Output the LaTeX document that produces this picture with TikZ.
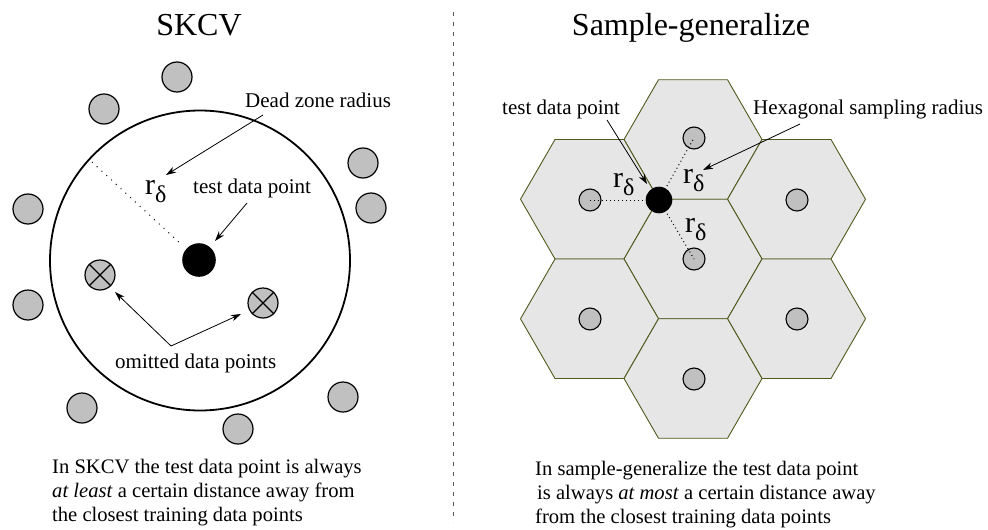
\documentclass[tikz,border=0pt]{standalone}
\usepackage{fontspec}
\setmainfont{Liberation Serif}
\usetikzlibrary{arrows.meta}
\definecolor{hexline}{RGB}{80,90,30}
\definecolor{hexfill}{RGB}{230,230,230}
\definecolor{ptfill}{RGB}{192,192,192}
\definecolor{sepline}{RGB}{90,90,90}
\newcommand\rdel{{\fontsize{30}{30}\selectfont r\raisebox{-8pt}{\fontsize{24}{24}\selectfont δ}}}
\newcommand\hexcell[2]{\draw[hexst,shift={(#1,#2)}] (69,0) -- (34.5,59.76) -- (-34.5,59.76) -- (-69,0) -- (-34.5,-59.76) -- (34.5,-59.76) -- cycle;}
\begin{document}
\begin{tikzpicture}[x=1pt,y=-1pt,
  lbl/.style={font=\fontsize{21}{24}\selectfont, inner sep=0pt, anchor=base west},
  ttl/.style={font=\fontsize{32}{36}\selectfont, inner sep=0pt, anchor=base},
  capl/.style={font=\fontsize{20.6}{24}\selectfont, inner sep=0pt, anchor=base west},
  rlbl/.style={inner sep=0pt, anchor=base west},
  ptl/.style={circle, draw=black, line width=1.2pt, fill=ptfill, minimum size=30pt, inner sep=0pt},
  pts/.style={circle, draw=black, line width=1.1pt, fill=ptfill, minimum size=22pt, inner sep=0pt},
  blk/.style={circle, fill=black, inner sep=0pt},
  hexst/.style={draw=hexline, fill=hexfill, line width=0.9pt, line join=miter},
  arr/.style={-{Stealth[length=10pt,width=6.5pt,inset=3pt]}, line width=0.8pt},
  dotl/.style={line width=1pt, dash pattern=on 1pt off 5.5pt},
  dotr/.style={line width=1pt, dash pattern=on 1pt off 3pt},
  sep/.style={draw=sepline, line width=0.8pt, dash pattern=on 4pt off 6pt}
]
\useasboundingbox (0,0) rectangle (988,530);

% ---------------- separator
\coordinate (sepT) at (453,12);
\coordinate (sepB) at (453,522);
\draw[sep] (sepT) -- (sepB);

% ---------------- titles
\node[ttl] (t1) at (199,35) {SKCV};
\node[ttl] (t2) at (691,35) {Sample-generalize};

% ---------------- left panel
\node[circle, draw=black, line width=1.8pt, minimum size=300pt, inner sep=0pt] (zone) at (200,260.5) {};
\node[ptl] (g1) at (177,77) {};
\node[ptl] (g2) at (104,109) {};
\node[ptl] (g3) at (363,163) {};
\node[ptl] (g4) at (28,209) {};
\node[ptl] (g5) at (371,208) {};
\node[ptl] (g6) at (28,305) {};
\node[ptl] (g7) at (343,397) {};
\node[ptl] (g8) at (82,408) {};
\node[ptl] (g9) at (238,429) {};
\node[ptl] (o1) at (100,275) {};
\node[ptl] (o2) at (263,303) {};
\draw[line width=1.2pt] (o1.north west) -- (o1.south east) (o1.north east) -- (o1.south west);
\draw[line width=1.2pt] (o2.north west) -- (o2.south east) (o2.north east) -- (o2.south west);

\coordinate (rS) at (92,162);
\coordinate (rE) at (182,245);
\draw[dotl] (rS) -- (rE);
\node[blk, minimum size=33.6pt] (tdL) at (199,260) {};

\node[rlbl] (rl) at (145,194) {\rdel};
\node[lbl] (dz) at (245,107) {Dead zone radius};
\node[lbl] (tdl) at (193,193) {test data point};
\node[lbl] (om) at (115,368) {omitted data points};

\coordinate (dzT) at (166,175);
\coordinate (tdlT) at (215,241);
\coordinate (omT1) at (115,292);
\coordinate (omT2) at (241,314);
\draw[arr] ([xshift=18pt,yshift=-8pt]dz.base west) -- (dzT);
\draw[arr] ([xshift=54pt,yshift=-10pt]tdl.base west) -- (tdlT);
\draw[arr] ([xshift=56pt,yshift=22pt]om.base west) -- (omT1);
\draw[arr] ([xshift=56pt,yshift=22pt]om.base west) -- (omT2);

\node[capl] (cl1) at (52,473) {In SKCV the test data point is always};
\node[capl] (cl2) at (52,497) {\textit{at least} a certain distance away from};
\node[capl] (cl3) at (52,521) {the closest training data points};

% ---------------- right panel
\hexcell{693}{139.5}
\hexcell{589.5}{199.25}
\hexcell{796.5}{199.25}
\hexcell{693}{259}
\hexcell{589.5}{318.75}
\hexcell{796.5}{318.75}
\hexcell{693}{378.5}

\node[pts] (h1) at (694,138) {};
\node[pts] (h2) at (590,200) {};
\node[pts] (h3) at (797,200) {};
\node[pts] (h4) at (694,259) {};
\node[pts] (h5) at (590,319) {};
\node[pts] (h6) at (797,319) {};
\node[pts] (h7) at (694,379) {};

\coordinate (bdc) at (659,200);
\draw[dotr] (bdc) -- (h2.center);
\draw[dotr] (bdc) -- (h1.center);
\draw[dotr] (bdc) -- (h4.center);
\node[blk, minimum size=26.6pt] (tdR) at (bdc) {};

\node[rlbl] (r1) at (613,187) {\rdel};
\node[rlbl] (r2) at (683,183) {\rdel};
\node[rlbl] (r3) at (685,232) {\rdel};

\node[lbl] (tdr) at (502,114) {test data point};
\node[lbl] (hs) at (753,114) {Hexagonal sampling radius};
\coordinate (tdrT) at (647,184);
\coordinate (hsT) at (703,170);
\draw[arr] ([xshift=105pt,yshift=-6pt]tdr.base west) -- (tdrT);
\draw[arr] ([xshift=47pt,yshift=-10pt]hs.base west) -- (hsT);

\node[capl] (cr1) at (535,475) {In sample-generalize the test data point};
\node[capl] (cr2) at (537,499) {is always \textit{at most} a certain distance away};
\node[capl] (cr3) at (535,523) {from the closest training data points};
\end{tikzpicture}
\end{document}
